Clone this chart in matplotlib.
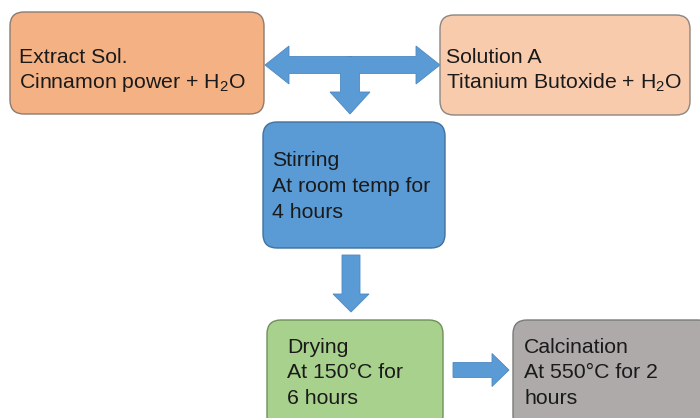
import matplotlib
matplotlib.use("Agg")
import matplotlib.pyplot as plt
from matplotlib.patches import FancyBboxPatch, FancyArrow

plt.rcParams["font.family"] = ["Liberation Sans", "DejaVu Sans"]
plt.rcParams["mathtext.fontset"] = "custom"
plt.rcParams["mathtext.rm"] = "Liberation Sans"
plt.rcParams["mathtext.it"] = "Liberation Sans"

# step texts
STEP_TEXTS = [
    "Extract Sol.\nCinnamon power + H$_2$O",
    "Solution A\nTitanium Butoxide + H$_2$O",
    "Stirring\nAt room temp for\n4 hours",
    "Drying\nAt 150°C for\n6 hours",
    "Calcination\nAt 550°C for 2\nhours",
]
STEP_COLORS = ["#F4B183", "#F8CBAD", "#5B9BD5", "#A9D18E", "#AEAAAA"]
STEP_EDGES = ["#8C7B70", "#8C8580", "#41719C", "#6F8F5A", "#7A7A7A"]

# layout in pixels: (left, top, right, bottom), text anchor (x, y), line spacing
BOXES = [(10, 12, 264, 114), (440, 15, 690, 115), (263, 122, 445, 248),
         (267, 320, 443, 430), (513, 320, 712, 430)]
TEXT_POS = [(19, 48), (446, 48), (272, 151), (287, 338), (524, 338)]
LINE_SP = [1.25, 1.25, 1.48, 1.42, 1.42]

ARROW = "#5B9BD5"
ARROW_EDGE = "#4E88C0"

fig = plt.figure(figsize=(7, 4.18), dpi=100)
ax = fig.add_axes([0, 0, 1, 1])
ax.set_xlim(0, 700)
ax.set_ylim(418, 0)
ax.axis("off")

for (l, t, r, b), fc, ec in zip(BOXES, STEP_COLORS, STEP_EDGES):
    ax.add_patch(FancyBboxPatch((l, t), r - l, b - t,
                                boxstyle="round,pad=0,rounding_size=14",
                                fc=fc, ec=ec, lw=1.0, zorder=2))

for txt, (x, y), sp in zip(STEP_TEXTS, TEXT_POS, LINE_SP):
    ax.text(x, y, txt, fontsize=15.3, color="#1a1a1a", ha="left", va="top",
            linespacing=sp, zorder=3)


def arrow(x0, y0, x1, y1, w, hw, hl):
    ax.add_patch(FancyArrow(x0, y0, x1 - x0, y1 - y0, width=w, head_width=hw,
                            head_length=hl, length_includes_head=True,
                            fc=ARROW, ec=ARROW_EDGE, lw=0.6, zorder=1))


# double arrow between the two solutions, with a branch down to stirring
arrow(352, 65, 265, 65, 17, 38, 24)
arrow(348, 65, 440, 65, 17, 38, 24)
arrow(350, 60, 350, 114, 19, 40, 22)
# cover the T junction edges
ax.add_patch(plt.Rectangle((300, 57), 100, 16, fc=ARROW, ec="none", zorder=1.5))
ax.add_patch(plt.Rectangle((341, 57), 18, 30, fc=ARROW, ec="none", zorder=1.5))

# stirring -> drying
arrow(351, 255, 351, 312, 18, 36, 18)
# drying -> calcination
arrow(453, 370, 509, 370, 15, 33, 17)

fig.savefig("out.png", dpi=100, facecolor="white")
